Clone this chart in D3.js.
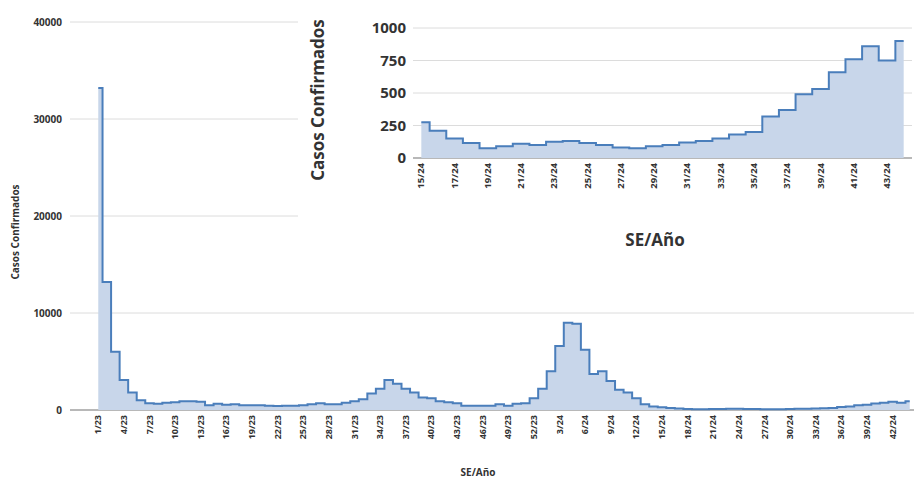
<!DOCTYPE html>
<html><head><meta charset="utf-8">
<script src="https://cdn.jsdelivr.net/npm/d3@7"></script>
<style>body{margin:0;background:#fff;font-family:"Open Sans",Arial,sans-serif}</style>
</head><body><div id="chart"></div>
<script>
// weekly confirmed cases, 1/23 .. 44/24
const weeks = [...d3.range(1, 53).map(w => `${w}/23`), ...d3.range(1, 45).map(w => `${w}/24`)]
const cases2023 = [33200, 13200, 6000, 3100, 1800, 1000, 700, 650, 750, 800, 900, 900, 850, 500, 650, 550, 600, 500, 500, 500,
    450, 400, 450, 450, 500, 600, 700, 600, 600, 750, 900, 1100, 1700, 2200, 3100, 2700, 2200, 1800, 1300, 1200,
    900, 800, 700, 450, 450, 450, 450, 600, 450, 650, 700, 1200]
const cases2024early = [2200, 4000, 6600, 9000, 8900, 6200, 3700, 4000, 3000, 2100, 1800, 1200, 600, 350]
const insetWeeks = d3.range(15, 45).map(w => `${w}/24`)
const insetCases = [275, 210, 150, 115, 75, 90, 110, 100, 125, 130, 115, 100, 80, 75, 90, 100, 120, 130, 150, 180,
    200, 320, 370, 490, 530, 660, 760, 860, 750, 900]
const mainTicks = [0, 10000, 20000, 30000, 40000]
const insetTicks = [0, 250, 500, 750, 1000]

const allCases = [...cases2023, ...cases2024early, ...insetCases]
const mainData = weeks.map((w, i) => ({ w, v: allCases[i] }))
const insetData = insetWeeks.map((w, i) => ({ w, v: insetCases[i] }))

const width = 915, height = 479
const fillColor = "#c8d6ea", lineColor = "#4a7ebb"
const svg = d3.select("#chart").append("svg").attr("width", width).attr("height", height)

function drawPanel(g, data, opt) {
    const x = d3.scalePoint().domain(data.map(d => d.w)).range([opt.x0, opt.x1]).padding(0.5)
    const y = d3.scaleLinear().domain(opt.yDomain).range([opt.y0, opt.y1])
    g.append("g").selectAll("line").data(opt.ticks).join("line")
        .attr("x1", opt.gridX0).attr("x2", opt.gridX1)
        .attr("y1", d => y(d)).attr("y2", d => y(d))
        .attr("stroke", d => d === 0 ? "#a0a0a0" : "#dcdcdc").attr("stroke-width", d => d === 0 ? 1.5 : 1)
    g.append("path").datum(data)
        .attr("fill", fillColor)
        .attr("d", d3.area().x(d => x(d.w)).y0(y(0)).y1(d => y(d.v)).curve(d3.curveStep))
    g.append("path").datum(data)
        .attr("fill", "none").attr("stroke", lineColor).attr("stroke-width", 2)
        .attr("d", d3.line().x(d => x(d.w)).y(d => y(d.v)).curve(d3.curveStep))
    g.append("g").selectAll("text").data(opt.ticks).join("text")
        .attr("x", opt.labelX).attr("y", d => y(d)).attr("dy", "0.35em")
        .attr("text-anchor", "end").attr("font-size", opt.yFont).attr("font-weight", "bold").attr("fill", "#333")
        .text(d => d)
    g.append("g").selectAll("text").data(data.filter((d, i) => i % opt.every === 0)).join("text")
        .attr("transform", d => `translate(${x(d.w) + 3},${opt.y0 + 5}) rotate(-90)`)
        .attr("text-anchor", "end").attr("font-size", opt.xFont).attr("font-weight", "bold").attr("fill", "#333")
        .text(d => d.w)
}

// main chart
const main = svg.append("g")
drawPanel(main, mainData, {
    x0: 94, x1: 914, y0: 410, y1: 22, yDomain: [0, 40000], ticks: mainTicks,
    gridX0: 70, gridX1: 914, labelX: 62, yFont: 10, xFont: 9, every: 3
})
main.append("text").attr("transform", "translate(19,232) rotate(-90)").attr("text-anchor", "middle")
    .attr("font-size", 10).attr("font-weight", "bold").attr("fill", "#333").text("Casos Confirmados")
main.append("text").attr("x", 478).attr("y", 476).attr("text-anchor", "middle")
    .attr("font-size", 10).attr("font-weight", "bold").attr("fill", "#333").text("SE/Año")

// inset
const inset = svg.append("g")
inset.append("rect").attr("x", 298).attr("y", 0).attr("width", 617).attr("height", 262).attr("fill", "#fff")
drawPanel(inset, insetData, {
    x0: 413, x1: 912, y0: 158, y1: 28, yDomain: [0, 1000], ticks: insetTicks,
    gridX0: 413, gridX1: 912, labelX: 406, yFont: 15, xFont: 9.5, every: 2
})
inset.append("text").attr("transform", "translate(324,100) rotate(-90)").attr("text-anchor", "middle")
    .attr("font-size", 17).attr("font-weight", "bold").attr("fill", "#333").text("Casos Confirmados")
inset.append("text").attr("x", 655).attr("y", 246).attr("text-anchor", "middle")
    .attr("font-size", 17).attr("font-weight", "bold").attr("fill", "#333").text("SE/Año")
</script></body></html>
